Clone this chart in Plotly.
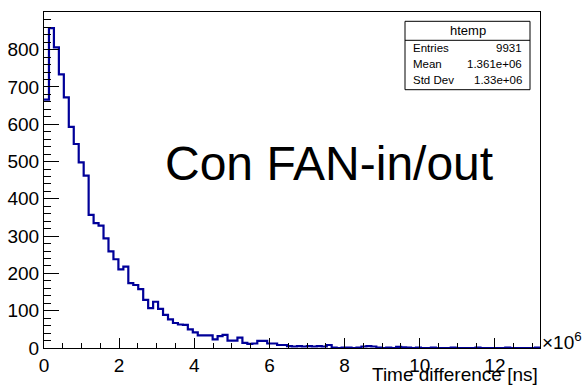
import numpy as np
import plotly.graph_objects as go

# ---- data ----
x_min = 0.0
x_max = 13.2e6
n_bins = 100
counts = [
    666, 858, 806, 734, 672, 593, 547, 498, 462, 357,
    335, 328, 294, 259, 238, 211, 218, 174, 169, 158,
    129, 107, 124, 105, 89, 77, 67, 63, 62, 50,
    42, 34, 34, 34, 23, 32, 35, 20, 20, 28,
    14, 11, 12, 19, 19, 12, 12, 8, 8, 5,
    4, 5, 4, 5, 4, 5, 4, 8, 1, 0,
    1, 1, 0, 1, 4, 5, 4, 1, 0, 1,
    0, 3, 2, 1, 0, 1, 0, 0, 1, 0,
    0, 0, 1, 0, 0, 0, 0, 1, 0, 0,
    0, 0, 0, 1, 0, 0, 0, 0, 0, 1,
]
x_tick_vals = [0, 2e6, 4e6, 6e6, 8e6, 10e6, 12e6]
x_tick_text = ["0", "2", "4", "6", "8", "10", "12"]
y_tick_vals = [0, 100, 200, 300, 400, 500, 600, 700, 800]
y_tick_text = ["0", "100", "200", "300", "400", "500", "600", "700", "800"]
y_max = 901
stats_title = "htemp"
stats_labels = ["Entries", "Mean", "Std Dev"]
stats_values = ["9931", "1.361e+06", "1.33e+06"]
x_title = "Time difference [ns]"
big_label = "Con FAN-in/out"

edges = np.linspace(x_min, x_max, n_bins + 1)
yvals = counts + [counts[-1]]

# ---- layout geometry (pixels) ----
W, H = 583, 386
L, R, T, B = 44, 43, 12, 38
pw = W - L - R
ph = H - T - B


def px_x(p):
    return (p - L) / pw


def px_y(p):
    return (H - B - p) / ph


FONT = "Liberation Sans, Arial, Helvetica, sans-serif"
BLUE = "#000099"

fig = go.Figure()
fig.add_trace(go.Scatter(
    x=edges, y=yvals, mode="lines", line_shape="hv",
    line=dict(color=BLUE, width=2.2), hoverinfo="skip",
))

fig.update_xaxes(
    range=[x_min, x_max], tickmode="array", tickvals=x_tick_vals, ticktext=x_tick_text,
    ticks="inside", ticklen=10, tickwidth=1, tickcolor="black",
    minor=dict(ticks="inside", ticklen=5, dtick=0.5e6, tick0=0, tickcolor="black", tickwidth=1, showgrid=False),
    showline=True, linecolor="black", linewidth=1, mirror=True,
    showgrid=False, zeroline=False, automargin=False,
    tickfont=dict(family=FONT, size=19, color="black"),
)
fig.update_yaxes(
    range=[0, y_max], tickmode="array", tickvals=y_tick_vals, ticktext=y_tick_text,
    ticks="inside", ticklen=15, tickwidth=1, tickcolor="black",
    minor=dict(ticks="inside", ticklen=7, dtick=20, tick0=0, tickcolor="black", tickwidth=1, showgrid=False),
    showline=True, linecolor="black", linewidth=1, mirror=True,
    showgrid=False, zeroline=False, automargin=False,
    tickfont=dict(family=FONT, size=19, color="black"),
)

shapes = [
    dict(type="rect", xref="paper", yref="paper",
         x0=px_x(405), x1=px_x(530), y0=px_y(89.7), y1=px_y(21.3),
         line=dict(color="black", width=1), fillcolor="white", layer="above"),
    dict(type="line", xref="paper", yref="paper",
         x0=px_x(405), x1=px_x(530), y0=px_y(40.3), y1=px_y(40.3),
         line=dict(color="black", width=1), layer="above"),
]

annotations = [
    dict(text=stats_title, x=px_x(467.5), y=px_y(30.5), xref="paper", yref="paper",
         xanchor="center", yanchor="middle", showarrow=False,
         font=dict(family=FONT, size=13, color="black")),
]
row_y = [48, 64, 80]
for lab, val, yy in zip(stats_labels, stats_values, row_y):
    annotations.append(dict(text=lab, x=px_x(411), y=px_y(yy), xref="paper", yref="paper",
                            xanchor="left", yanchor="middle", showarrow=False,
                            font=dict(family=FONT, size=11.5, color="black")))
    annotations.append(dict(text=val, x=px_x(524), y=px_y(yy), xref="paper", yref="paper",
                            xanchor="right", yanchor="middle", showarrow=False,
                            font=dict(family=FONT, size=11.5, color="black")))

annotations += [
    dict(text=big_label, x=px_x(329), y=px_y(163), xref="paper", yref="paper",
         xanchor="center", yanchor="middle", showarrow=False,
         font=dict(family=FONT, size=48, color="black")),
    dict(text=x_title, x=1.0, y=px_y(374), xref="paper", yref="paper",
         xanchor="right", yanchor="middle", showarrow=False,
         font=dict(family=FONT, size=19, color="black")),
    dict(text="×10<sup>6</sup>", x=1.0, y=px_y(341), xref="paper", yref="paper",
         xanchor="left", yanchor="middle", showarrow=False,
         font=dict(family=FONT, size=19, color="black")),
]

fig.update_layout(
    width=W, height=H,
    margin=dict(l=L, r=R, t=T, b=B, pad=0),
    paper_bgcolor="white", plot_bgcolor="white",
    showlegend=False, shapes=shapes, annotations=annotations,
)

fig.write_html("out.html")
